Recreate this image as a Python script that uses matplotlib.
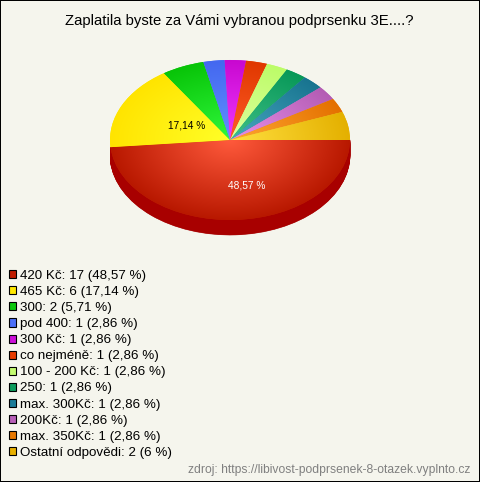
import numpy as np
import matplotlib
matplotlib.use("Agg")
import matplotlib.pyplot as plt
from matplotlib.patches import Patch, Wedge, Rectangle
from matplotlib.colors import to_rgb

plt.rcParams['font.family'] = ['Liberation Sans', 'DejaVu Sans']

title = "Zaplatila byste za Vámi vybranou podprsenku 3E....?"
source = "zdroj: https://libivost-podprsenek-8-otazek.vyplnto.cz"
categories = ["420 Kč", "465 Kč", "300", "pod 400", "300 Kč", "co nejméně",
              "100 - 200 Kč", "250", "max. 300Kč", "200Kč", "max. 350Kč", "Ostatní odpovědi"]
counts = [17, 6, 2, 1, 1, 1, 1, 1, 1, 1, 1, 2]
percents = ["48,57", "17,14", "5,71", "2,86", "2,86", "2,86", "2,86", "2,86", "2,86", "2,86", "2,86", "6"]
legend_colors = ["#c01c00", "#ffe800", "#0cc80c", "#4c70f8", "#cc10d8", "#e83c00",
                 "#c4fc70", "#0c9c5c", "#1c7c98", "#b860b8", "#e87800", "#e8b000"]
inner_colors = ["#ff5a3c", "#ffff28", "#30f83c", "#6090ff", "#f038ff", "#ff5c28",
                "#e0ffa0", "#40c088", "#48a8c0", "#e890e8", "#ffa830", "#ffe040"]
outer_colors = ["#b81800", "#ffe400", "#08c408", "#4468f0", "#c808d0", "#e03800",
                "#bcfc68", "#089858", "#187490", "#b45cb4", "#e47000", "#e4b000"]
side_color = "#a80000"
bg = "#f5f5ed"
W, H = 480, 482
cx, cy, rx, ry, depth = 230, 140, 120, 80, 15

fig = plt.figure(figsize=(W / 100, H / 100), dpi=100, facecolor=bg)
ax = fig.add_axes([0, 0, 1, 1])
wedges, _ = ax.pie(counts, colors=legend_colors, startangle=0, counterclock=False, radius=1)

# extruded side of the biggest slice
w0 = wedges[0]
for d in np.linspace(depth / ry, 0, 31):
    ax.add_patch(Wedge((0, -d), 1, w0.theta1, w0.theta2, fc=side_color, ec=side_color, lw=0.4, zorder=0.5))

# radial gradient on each slice
xs, ys = np.meshgrid(np.linspace(-1, 1, 480), np.linspace(-1, 1, 320))
r = np.clip(np.hypot(xs, ys), 0, 1)[..., None]
for w, ic, oc in zip(wedges, inner_colors, outer_colors):
    im = (1 - r) * np.array(to_rgb(ic)) + r * np.array(to_rgb(oc))
    art = ax.imshow(im, extent=(-1, 1, -1, 1), origin='lower', aspect='auto', zorder=2, interpolation='bilinear')
    art.set_clip_path(w)

ax.set_xlim(-cx / rx, (W - cx) / rx)
ax.set_ylim((cy - H) / ry, cy / ry)
ax.set_aspect('auto')
ax.set_axis_off()

ax.text(0.14, -0.575, percents[0] + " %", color="white", fontsize=7.3, ha='center', va='center', zorder=3)
ax.text(-0.358, 0.175, percents[1] + " %", color="black", fontsize=7.3, ha='center', va='center', zorder=3)

fig.text(239 / W, 1 - 20.5 / H, title, ha='center', va='center', fontsize=10.75, color="black")
fig.text(470 / W, 1 - 470 / H, source, ha='right', va='center', fontsize=8.75, color="#808080")

handles = [Patch(fc=c, ec="black", lw=0.8) for c in legend_colors]
labels = [f"{c}: {n} ({p} %)" for c, n, p in zip(categories, counts, percents)]
fig.legend(handles, labels, loc='upper left', bbox_to_anchor=(8.5 / W, 1 - 270 / H), bbox_transform=fig.transFigure,
           frameon=False, fontsize=9.6, borderpad=0, borderaxespad=0, handlelength=0.55, handleheight=0.55,
           handletextpad=0.3, labelspacing=0.305)

fig.add_artist(Rectangle((0, 0), 1, 1, transform=fig.transFigure, fill=False, ec="black", lw=1.44))
fig.savefig("out.png", dpi=100, facecolor=bg)
